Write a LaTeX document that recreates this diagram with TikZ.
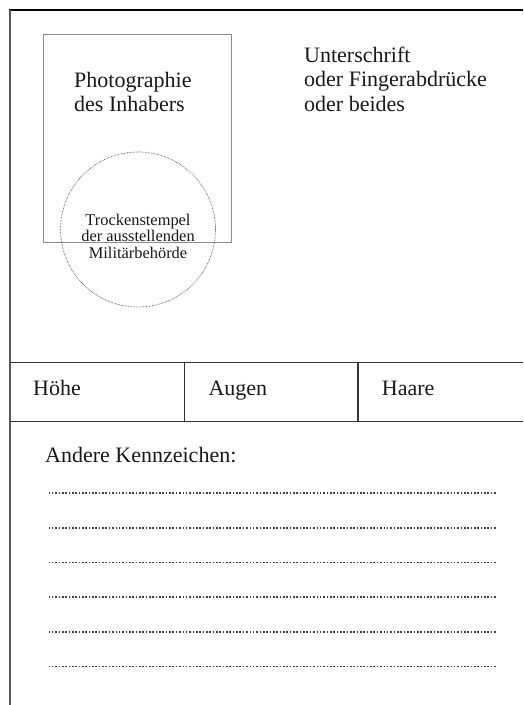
\documentclass[tikz,border=0pt]{standalone}
\usepackage{fontspec}
\setmainfont{Liberation Serif}
\begin{document}
\begin{tikzpicture}[x=1pt,y=-1pt,
  frametop/.style={line width=2pt, draw=black},
  frameleft/.style={line width=2pt, draw=black!65},
  gridline/.style={line width=1.4pt, draw=black!80},
  lbl/.style={font=\fontsize{22}{24.5}\selectfont, inner sep=0pt, anchor=base west, align=left, text=black!90},
  stamptxt/.style={font=\fontsize{16.4}{16.7}\selectfont, inner sep=0pt, anchor=base, align=center, text=black!90},
  dotline/.style={line width=1.6pt, dash pattern=on 1.6pt off 1.75pt, draw=black!75}
]
\useasboundingbox (0,0) rectangle (523,705);
% frame
\draw[frametop] (9,10) -- (523,10);
\draw[frameleft] (10,10) -- (10,705);
% photo box and stamp
\node (photo) [draw=black!45, line width=0.8pt, anchor=north west, inner sep=0pt,
  minimum width=188pt, minimum height=208pt] at (43,34) {};
\node (stamp) [circle, draw=black!70, line width=0.7pt, dash pattern=on 0.6pt off 0.9pt,
  minimum size=155pt, inner sep=0pt] at (138,229.5) {};
\node (photot1) [lbl] at (74,87) {Photographie};
\node (photot2) [lbl] at (74,111.5) {des Inhabers};
\node (st1) [stamptxt] at (138,225) {Trockenstempel};
\node (st2) [stamptxt] at (138,241.7) {der ausstellenden};
\node (st3) [stamptxt] at (138,258.4) {Militärbehörde};
% signature
\node (sig1) [lbl] at (304,62.3) {Unterschrift};
\node (sig2) [lbl] at (304,86.8) {oder Fingerabdrücke};
\node (sig3) [lbl] at (304,111.3) {oder beides};
% table
\draw[gridline] (10,362.5) -- (523,362.5);
\draw[gridline] (10,421.7) -- (523,421.7);
\draw[gridline] (184.5,362.5) -- (184.5,421.7);
\draw[gridline] (358,362.5) -- (358,421.7);
\node (hoehe) [lbl] at (33,395) {Höhe};
\node (augen) [lbl] at (208.3,395) {Augen};
\node (haare) [lbl] at (381.7,395) {Haare};
% other marks
\node (andere) [lbl] at (45,462) {Andere Kennzeichen:};
\foreach \yy in {493,527.7,562.4,597.1,631.8,666.5}
  \draw[dotline] (48.5,\yy) -- (496,\yy);
\end{tikzpicture}
\end{document}
